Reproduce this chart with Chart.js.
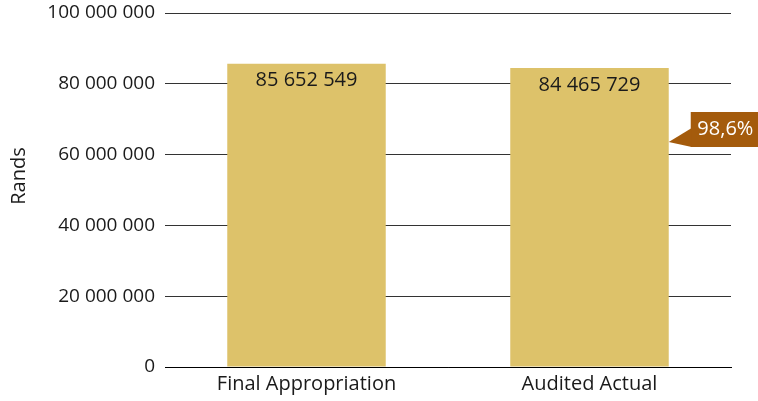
<!DOCTYPE html>
<html lang="en">

<head>
    <meta charset="UTF-8">
    <title>Final Appropriation vs Audited Actual</title>
    <script src="https://cdn.jsdelivr.net/npm/chart.js"></script>
    <style>
        body {
            margin: 0;
            background: #fff;
        }

        .wrap {
            width: 758px;
            height: 401px;
        }
    </style>
</head>

<body>
    <div class="wrap">
        <canvas id="barChart"></canvas>
    </div>

    <script>
        const categories = ['Final Appropriation', 'Audited Actual'];
        const amounts = [85652549, 84465729];
        const spentLabel = '98,6%';
        const yTicks = [0, 20000000, 40000000, 60000000, 80000000, 100000000];
        const yTitle = 'Rands';

        const fontFamily = '"Open Sans", "Noto Sans", sans-serif';
        const textColor = '#1a1a1a';

        function spaced(n) {
            return String(n).replace(/\B(?=(\d{3})+(?!\d))/g, ' ');
        }

        // value inside the top of each bar, callout on the last bar, axis title
        const barLabels = {
            id: 'barLabels',
            afterDatasetsDraw(chart) {
                const ctx = chart.ctx;
                const meta = chart.getDatasetMeta(0);
                ctx.save();
                ctx.font = '20px ' + fontFamily;
                ctx.fillStyle = textColor;
                ctx.textAlign = 'center';
                ctx.textBaseline = 'middle';
                meta.data.forEach((bar, i) => {
                    ctx.fillText(spaced(amounts[i]), bar.x, bar.y + 17);
                });

                const last = meta.data[meta.data.length - 1];
                const edge = last.x + last.width / 2;
                const boxL = edge + 22, boxT = 112, boxB = 147, boxR = 758;
                ctx.fillStyle = '#a45b0c';
                ctx.fillRect(boxL, boxT, boxR - boxL, boxB - boxT);
                ctx.beginPath();
                ctx.moveTo(boxL + 1, boxT + 16);
                ctx.lineTo(edge, 142);
                ctx.lineTo(boxL + 1, boxB);
                ctx.closePath();
                ctx.fill();
                ctx.fillStyle = '#fff';
                ctx.font = '20px ' + fontFamily;
                ctx.fillText(spentLabel, (boxL + boxR) / 2 + 1, (boxT + boxB) / 2);

                // y axis title sits a little above the middle in the original
                ctx.translate(19, chart.chartArea.top + (chart.chartArea.bottom - chart.chartArea.top) / 2 - 14);
                ctx.rotate(-Math.PI / 2);
                ctx.fillStyle = textColor;
                ctx.fillText(yTitle, 0, 0);
                ctx.restore();
            }
        };

        const ctx = document.getElementById('barChart').getContext('2d');

        new Chart(ctx, {
            type: 'bar',
            data: {
                labels: categories,
                datasets: [{
                    data: amounts,
                    backgroundColor: '#ddc26a',
                    barPercentage: 0.56,
                    categoryPercentage: 1
                }]
            },
            options: {
                responsive: true,
                maintainAspectRatio: false,
                animation: false,
                layout: {
                    padding: { top: 13, right: 27, bottom: 0, left: 0 }
                },
                plugins: {
                    legend: { display: false },
                    tooltip: { enabled: false }
                },
                scales: {
                    x: {
                        grid: { display: false, drawTicks: false },
                        border: { color: '#000', width: 1 },
                        ticks: {
                            color: textColor,
                            padding: 5,
                            font: { family: fontFamily, size: 20 }
                        }
                    },
                    y: {
                        min: 0,
                        max: 100000000,
                        afterBuildTicks(scale) {
                            scale.ticks = yTicks.map(v => ({ value: v }));
                        },
                        afterFit(scale) {
                            scale.width = 165;
                            scale.paddingTop = 0;
                        },
                        grid: { color: '#333', lineWidth: 1, drawTicks: false },
                        border: { display: false },
                        ticks: {
                            color: textColor,
                            padding: 10,
                            font: { family: fontFamily, size: 19 },
                            callback: v => spaced(v)
                        }
                    }
                }
            },
            plugins: [barLabels]
        });
    </script>
</body>

</html>
